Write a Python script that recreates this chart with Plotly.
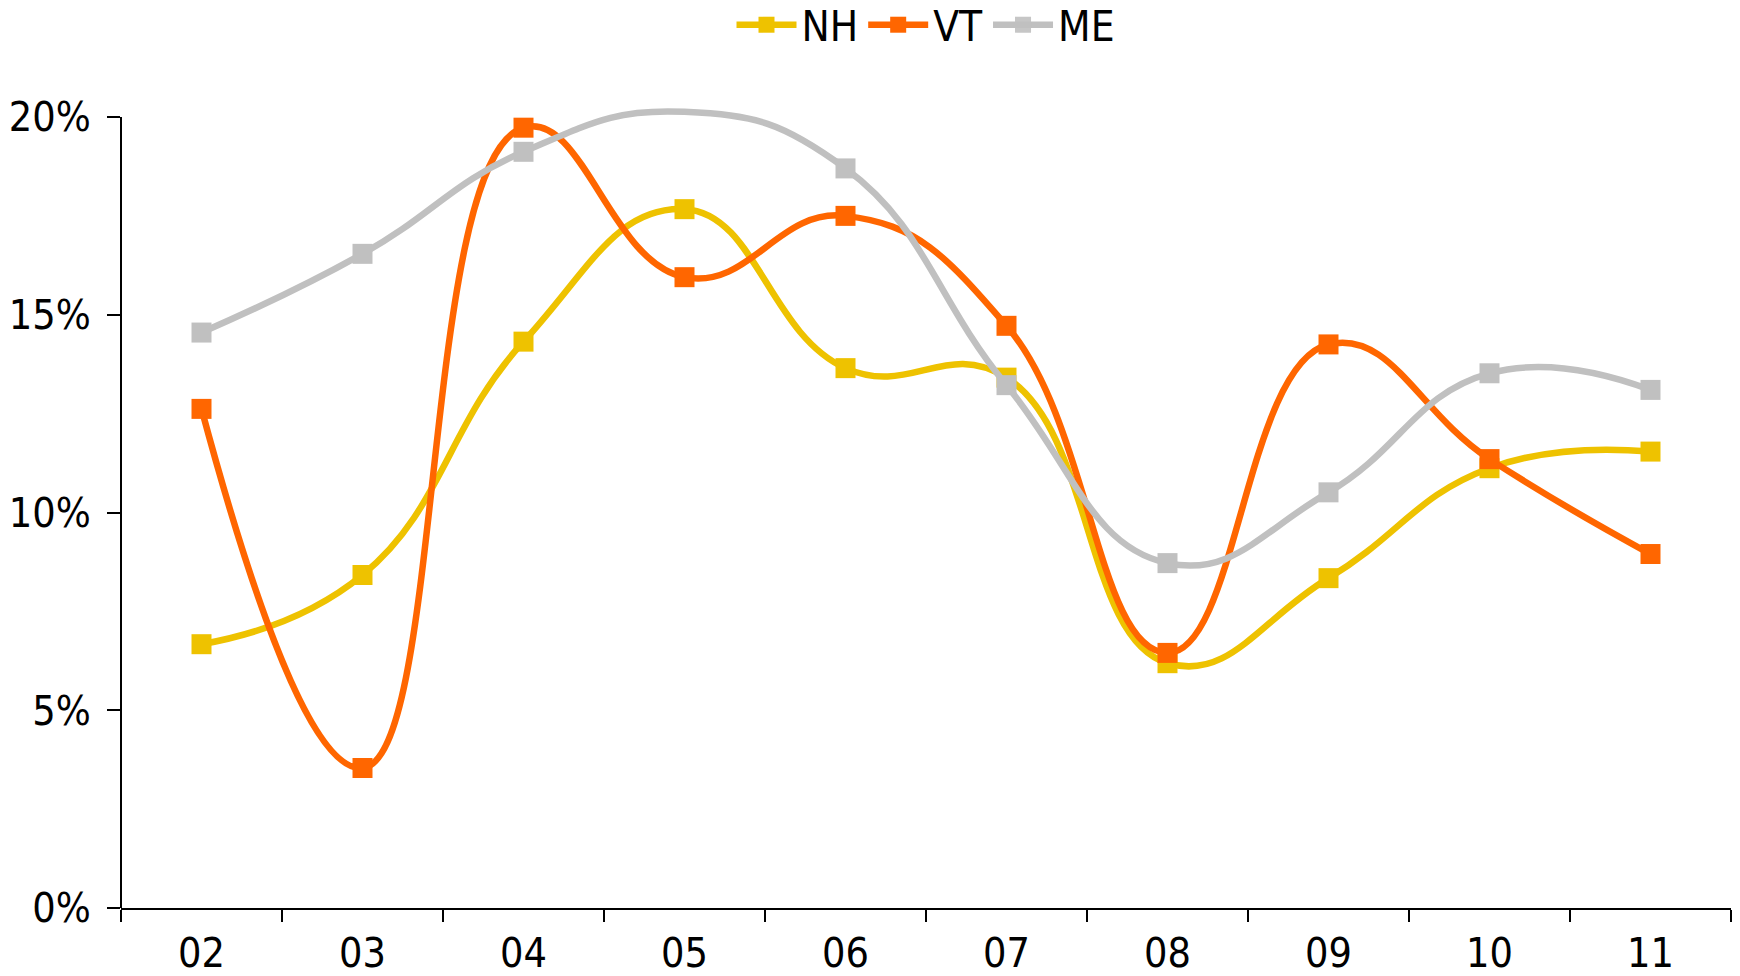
import plotly.graph_objects as go

years = ["02", "03", "04", "05", "06", "07", "08", "09", "10", "11"]
nh = [0.0667, 0.0842, 0.1432, 0.1767, 0.1365, 0.1341, 0.0619, 0.0834, 0.1112, 0.1154]
vt = [0.1262, 0.0354, 0.1973, 0.1595, 0.1750, 0.1472, 0.0645, 0.1425, 0.1135, 0.0895]
me = [0.1455, 0.1654, 0.1912, 0.2013, 0.1870, 0.1322, 0.0872, 0.1051, 0.1352, 0.1310]
me_marker_visible = [1, 1, 1, 0, 1, 1, 1, 1, 1, 1]

y_ticks = [0, 0.05, 0.10, 0.15, 0.20]

FONT = "DejaVu Sans Condensed, Liberation Sans Narrow, Arial Narrow, sans-serif"

series = [
    ("NH", nh, "#EEC200", None),
    ("VT", vt, "#FF6600", None),
    ("ME", me, "#C0C0C0", me_marker_visible),
]

fig = go.Figure()
for name, vals, color, vis in series:
    marker = dict(symbol="square", size=20, color=color, line=dict(width=0))
    if vis is not None:
        marker["opacity"] = vis
    fig.add_trace(go.Scatter(
        x=years, y=vals, name=name, mode="lines+markers",
        line=dict(color=color, width=6.5, shape="spline", smoothing=1.3),
        marker=marker,
    ))

ymax = max(y_ticks)
fig.add_shape(type="line", xref="paper", yref="y", x0=0, x1=0, y0=0, y1=ymax,
              line=dict(color="black", width=2), layer="above")

fig.update_layout(
    width=1740, height=976,
    margin=dict(l=121, r=9, t=103, b=68, autoexpand=False),
    paper_bgcolor="white", plot_bgcolor="white",
    font=dict(family=FONT, size=41, color="black"),
    showlegend=True,
    legend=dict(orientation="h", x=0.5, xanchor="center", y=1.097, yanchor="middle",
                yref="paper", font=dict(size=42), itemwidth=60,
                tracegroupgap=0, bgcolor="rgba(0,0,0,0)"),
    xaxis=dict(type="category", range=[-0.5, 9.5], showgrid=False, zeroline=False,
               automargin=False,
               showline=True, linecolor="black", linewidth=2,
               ticks="outside", tickson="boundaries", ticklen=12, tickwidth=2,
               tickcolor="black", ticklabelstandoff=8),
    yaxis=dict(range=[0, ymax * 805 / 791], tickvals=y_ticks, tickformat=".0%",
               automargin=False,
               showgrid=False, zeroline=False, showline=False,
               ticks="outside", ticklen=13, tickwidth=2, tickcolor="black",
               ticklabelstandoff=8),
)

fig.write_html("out.html")
